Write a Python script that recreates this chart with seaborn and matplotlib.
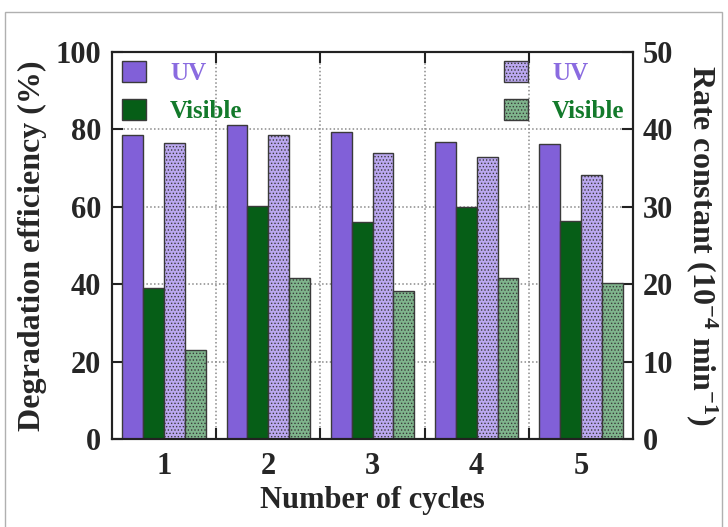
import matplotlib
matplotlib.use('Agg')
import matplotlib.pyplot as plt
import seaborn as sns
import pandas as pd
from matplotlib.patches import Patch, Rectangle

cycles = ['1', '2', '3', '4', '5']
eff_uv = [78.6, 81.1, 79.2, 76.8, 76.2]
eff_vis = [39.1, 60.3, 56.0, 59.9, 56.3]
rate_uv = [38.3, 39.3, 37.0, 36.4, 34.1]
rate_vis = [11.5, 20.8, 19.1, 20.8, 20.2]
series = ['UV eff', 'Visible eff', 'UV rate', 'Visible rate']
legend_labels = ['UV', 'Visible']
y_left_ticks = [0, 20, 40, 60, 80, 100]
y_right_ticks = [0, 10, 20, 30, 40, 50]

sns.set_theme(style='white')
plt.rcParams['font.family'] = ['Liberation Serif', 'DejaVu Serif']
plt.rcParams['font.weight'] = 'bold'
plt.rcParams['mathtext.default'] = 'regular'
plt.rcParams['hatch.color'] = '#f4f0ff'
plt.rcParams['hatch.linewidth'] = 0.6

pal = {'UV eff': '#8160d8', 'Visible eff': '#065e17',
       'UV rate': '#bba8f0', 'Visible rate': '#7fb48c'}
edge = '#3a3a3a'

eff_df = pd.DataFrame({'cycle': cycles * 2,
                       'series': [series[0]] * 5 + [series[1]] * 5,
                       'value': eff_uv + eff_vis})
rate_df = pd.DataFrame({'cycle': cycles * 2,
                        'series': [series[2]] * 5 + [series[3]] * 5,
                        'value': rate_uv + rate_vis})

fig = plt.figure(figsize=(7.28, 5.27), dpi=100)
ax = fig.add_axes([112 / 728, 88 / 527, 521 / 728, 387 / 527])
ax.set_axisbelow(True)

sns.barplot(data=eff_df, x='cycle', y='value', hue='series', hue_order=series,
            order=cycles, palette=pal, saturation=1, width=0.8, dodge=True,
            edgecolor=edge, linewidth=1, errorbar=None, legend=False, ax=ax)

ax2 = ax.twinx()
sns.barplot(data=rate_df, x='cycle', y='value', hue='series', hue_order=series,
            order=cycles, palette=pal, saturation=1, width=0.8, dodge=True,
            edgecolor=edge, linewidth=1, errorbar=None, legend=False, ax=ax2)
for p in ax2.patches:
    p.set_hatch('.....')

ax.set_xlim(-0.5, 4.5)
ax.set_ylim(0, 100)
ax2.set_ylim(0, 50)
ax.set_yticks(y_left_ticks)
ax2.set_yticks(y_right_ticks)
ax.set_xticks(range(len(cycles)))
ax.set_xticklabels(cycles)
ax.set_xticks([0.5, 1.5, 2.5, 3.5], minor=True)

ax.tick_params(axis='x', which='major', length=0, pad=9, labelsize=22)
ax.tick_params(axis='x', which='minor', direction='in', length=8, width=1.5,
               top=True, bottom=True, color='#222')
ax.tick_params(axis='y', which='major', direction='in', length=8, width=1.5,
               labelsize=22, pad=8, left=True, color='#222')
ax2.tick_params(axis='y', which='major', direction='in', length=8, width=1.5,
                labelsize=22, pad=7, right=True, color='#222')

grid_kw = dict(color='#8a8a8a', linestyle=(0, (1, 1.5)), linewidth=1.1)
ax.xaxis.grid(True, which='minor', **grid_kw)
ax.xaxis.grid(False, which='major')
ax.yaxis.grid(True, which='major', **grid_kw)
ax2.grid(False)

for a in (ax, ax2):
    for s in a.spines.values():
        s.set_linewidth(1.5)
        s.set_color('#222')
        s.set_visible(True)

ax.set_xlabel('Number of cycles', fontsize=22, fontweight='bold', labelpad=4)
ax.set_ylabel('Degradation efficiency (%)', fontsize=23, fontweight='bold', labelpad=6)
ax2.set_ylabel('Rate constant (10$^{-4}$ min$^{-1}$)', fontsize=23,
               fontweight='bold', rotation=270, va='bottom', labelpad=8)

h1 = [Patch(facecolor=pal['UV eff'], edgecolor=edge),
      Patch(facecolor=pal['Visible eff'], edgecolor=edge)]
h2 = [Patch(facecolor=pal['UV rate'], edgecolor=edge, hatch='.....'),
      Patch(facecolor=pal['Visible rate'], edgecolor=edge, hatch='.....')]
txt_colors = ['#8a6be0', '#137a2b']
leg_kw = dict(frameon=False, handlelength=0.96, handleheight=0.9,
              handletextpad=0.96, labelspacing=0.55, borderaxespad=0.0,
              borderpad=0.0, labelcolor=txt_colors,
              prop={'weight': 'bold', 'size': 18})
leg1 = ax.legend(h1, legend_labels, loc='upper left',
                 bbox_to_anchor=(10 / 521, 1 - 9 / 387), **leg_kw)
leg2 = ax2.legend(h2, legend_labels, loc='upper left',
                  bbox_to_anchor=(392 / 521, 1 - 9 / 387), **leg_kw)

fig.add_artist(Rectangle((5 / 728, -0.01), 717 / 728, (527 - 12) / 527 + 0.01,
                         transform=fig.transFigure, fill=False,
                         edgecolor='#b0b0b0', linewidth=1))

fig.savefig('out.png', dpi=100)
